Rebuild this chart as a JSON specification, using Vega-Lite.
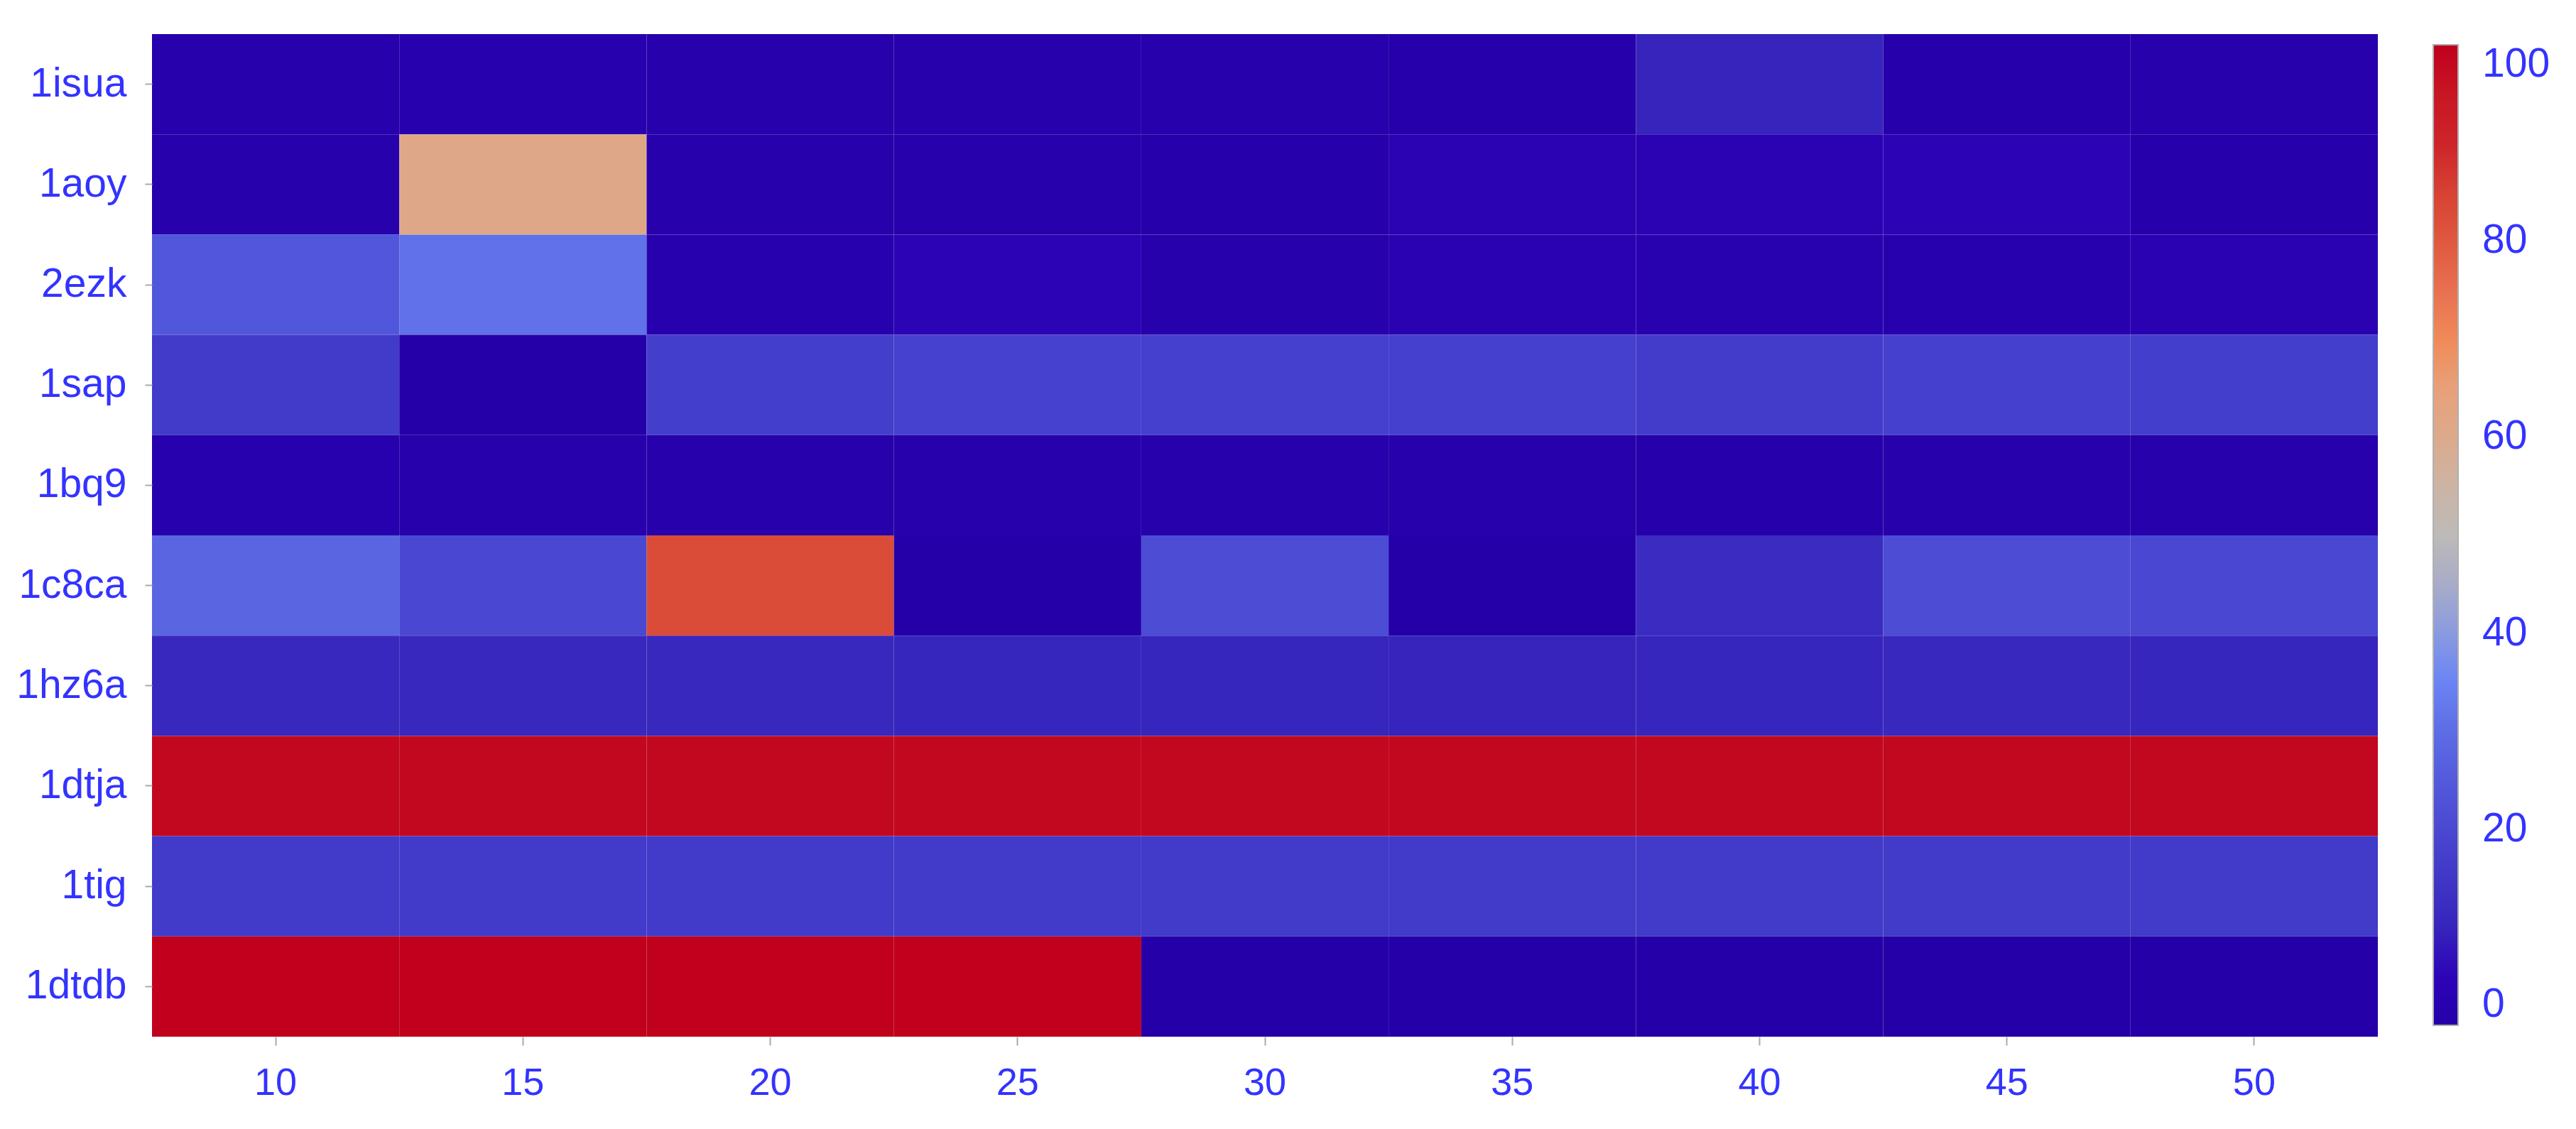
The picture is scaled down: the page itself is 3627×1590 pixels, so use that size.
{
  "$schema": "https://vega.github.io/schema/vega-lite/v6.json",
  "width": 3134,
  "height": 1412,
  "autosize": {"type": "none"},
  "padding": {"left": 214, "top": 48, "right": 279, "bottom": 130},
  "background": "white",
  "config": {"view": {"stroke": null}, "font": "Liberation Sans"},
  "data": {"values": [
    {"protein": "1isua", "size": 10, "value": 1}, {"protein": "1isua", "size": 15, "value": 2}, {"protein": "1isua", "size": 20, "value": 1}, {"protein": "1isua", "size": 25, "value": 1}, {"protein": "1isua", "size": 30, "value": 1}, {"protein": "1isua", "size": 35, "value": 0.5}, {"protein": "1isua", "size": 40, "value": 10}, {"protein": "1isua", "size": 45, "value": 0.5}, {"protein": "1isua", "size": 50, "value": 1},
    {"protein": "1aoy", "size": 10, "value": 1}, {"protein": "1aoy", "size": 15, "value": 61}, {"protein": "1aoy", "size": 20, "value": 1}, {"protein": "1aoy", "size": 25, "value": 1}, {"protein": "1aoy", "size": 30, "value": 0.5}, {"protein": "1aoy", "size": 35, "value": 3.5}, {"protein": "1aoy", "size": 40, "value": 3.5}, {"protein": "1aoy", "size": 45, "value": 4.5}, {"protein": "1aoy", "size": 50, "value": 0.5},
    {"protein": "2ezk", "size": 10, "value": 24}, {"protein": "2ezk", "size": 15, "value": 31}, {"protein": "2ezk", "size": 20, "value": 2}, {"protein": "2ezk", "size": 25, "value": 4.5}, {"protein": "2ezk", "size": 30, "value": 1}, {"protein": "2ezk", "size": 35, "value": 3}, {"protein": "2ezk", "size": 40, "value": 2.5}, {"protein": "2ezk", "size": 45, "value": 2}, {"protein": "2ezk", "size": 50, "value": 3},
    {"protein": "1sap", "size": 10, "value": 16}, {"protein": "1sap", "size": 15, "value": 0}, {"protein": "1sap", "size": 20, "value": 17}, {"protein": "1sap", "size": 25, "value": 18}, {"protein": "1sap", "size": 30, "value": 17.5}, {"protein": "1sap", "size": 35, "value": 17.5}, {"protein": "1sap", "size": 40, "value": 16.5}, {"protein": "1sap", "size": 45, "value": 17.5}, {"protein": "1sap", "size": 50, "value": 17},
    {"protein": "1bq9", "size": 10, "value": 1.5}, {"protein": "1bq9", "size": 15, "value": 1}, {"protein": "1bq9", "size": 20, "value": 1}, {"protein": "1bq9", "size": 25, "value": 1}, {"protein": "1bq9", "size": 30, "value": 1}, {"protein": "1bq9", "size": 35, "value": 1}, {"protein": "1bq9", "size": 40, "value": 0.5}, {"protein": "1bq9", "size": 45, "value": 1}, {"protein": "1bq9", "size": 50, "value": 1},
    {"protein": "1c8ca", "size": 10, "value": 28}, {"protein": "1c8ca", "size": 15, "value": 20}, {"protein": "1c8ca", "size": 20, "value": 83}, {"protein": "1c8ca", "size": 25, "value": 0}, {"protein": "1c8ca", "size": 30, "value": 21}, {"protein": "1c8ca", "size": 35, "value": 0}, {"protein": "1c8ca", "size": 40, "value": 12}, {"protein": "1c8ca", "size": 45, "value": 21}, {"protein": "1c8ca", "size": 50, "value": 20},
    {"protein": "1hz6a", "size": 10, "value": 11}, {"protein": "1hz6a", "size": 15, "value": 11}, {"protein": "1hz6a", "size": 20, "value": 11}, {"protein": "1hz6a", "size": 25, "value": 10.5}, {"protein": "1hz6a", "size": 30, "value": 10.5}, {"protein": "1hz6a", "size": 35, "value": 10}, {"protein": "1hz6a", "size": 40, "value": 10.5}, {"protein": "1hz6a", "size": 45, "value": 11}, {"protein": "1hz6a", "size": 50, "value": 10.5},
    {"protein": "1dtja", "size": 10, "value": 98.5}, {"protein": "1dtja", "size": 15, "value": 98.5}, {"protein": "1dtja", "size": 20, "value": 98.5}, {"protein": "1dtja", "size": 25, "value": 98.5}, {"protein": "1dtja", "size": 30, "value": 98.5}, {"protein": "1dtja", "size": 35, "value": 98.5}, {"protein": "1dtja", "size": 40, "value": 98.5}, {"protein": "1dtja", "size": 45, "value": 98.5}, {"protein": "1dtja", "size": 50, "value": 98.5},
    {"protein": "1tig", "size": 10, "value": 16}, {"protein": "1tig", "size": 15, "value": 16}, {"protein": "1tig", "size": 20, "value": 16}, {"protein": "1tig", "size": 25, "value": 16}, {"protein": "1tig", "size": 30, "value": 16}, {"protein": "1tig", "size": 35, "value": 16}, {"protein": "1tig", "size": 40, "value": 16}, {"protein": "1tig", "size": 45, "value": 16}, {"protein": "1tig", "size": 50, "value": 16},
    {"protein": "1dtdb", "size": 10, "value": 100}, {"protein": "1dtdb", "size": 15, "value": 100}, {"protein": "1dtdb", "size": 20, "value": 100}, {"protein": "1dtdb", "size": 25, "value": 100}, {"protein": "1dtdb", "size": 30, "value": 0}, {"protein": "1dtdb", "size": 35, "value": 0}, {"protein": "1dtdb", "size": 40, "value": 0}, {"protein": "1dtdb", "size": 45, "value": 0}, {"protein": "1dtdb", "size": 50, "value": 0}
  ]},
  "mark": {"type": "rect"},
  "encoding": {
    "x": {
      "field": "size", "type": "ordinal",
      "scale": {"paddingInner": 0, "paddingOuter": 0},
      "axis": {"title": null, "labelAngle": 0, "labelFontSize": 54, "labelColor": "#3333ff", "labelFont": "Liberation Sans", "domain": false, "ticks": true, "tickSize": 12, "tickColor": "#aaaaaa", "tickWidth": 2, "labelPadding": 26}
    },
    "y": {
      "field": "protein", "type": "nominal",
      "sort": ["1isua", "1aoy", "2ezk", "1sap", "1bq9", "1c8ca", "1hz6a", "1dtja", "1tig", "1dtdb"],
      "scale": {"paddingInner": 0, "paddingOuter": 0},
      "axis": {"title": null, "labelFontSize": 57, "labelColor": "#3333ff", "labelFont": "Liberation Sans", "domain": false, "ticks": true, "tickSize": 10, "tickColor": "#aaaaaa", "tickWidth": 2, "labelPadding": 26}
    },
    "color": {
      "field": "value", "type": "quantitative",
      "scale": {
        "domain": [0, 5, 10, 20, 30, 35, 40, 45, 50, 55, 60, 65, 70, 75, 80, 90, 100],
        "range": ["#2500a8", "#2d04b8", "#3624bc", "#4a48d2", "#5e6ce6", "#6a84f4", "#8a9ae0", "#a8acc8", "#bdbab8", "#ccb4a4", "#dcaa8c", "#e8a078", "#f08a58", "#e87050", "#e0583f", "#cd2429", "#c0001d"]
      },
      "legend": {
        "title": null, "orient": "none", "legendX": 3212, "legendY": 15, "direction": "vertical",
        "gradientLength": 1381, "gradientThickness": 35,
        "gradientStrokeColor": "#b0b0b0", "gradientStrokeWidth": 2,
        "values": [0, 20, 40, 60, 80, 100],
        "labelFontSize": 57, "labelColor": "#3333ff", "labelFont": "Liberation Sans", "labelOffset": 34, "labelOverlap": false
      }
    }
  }
}
